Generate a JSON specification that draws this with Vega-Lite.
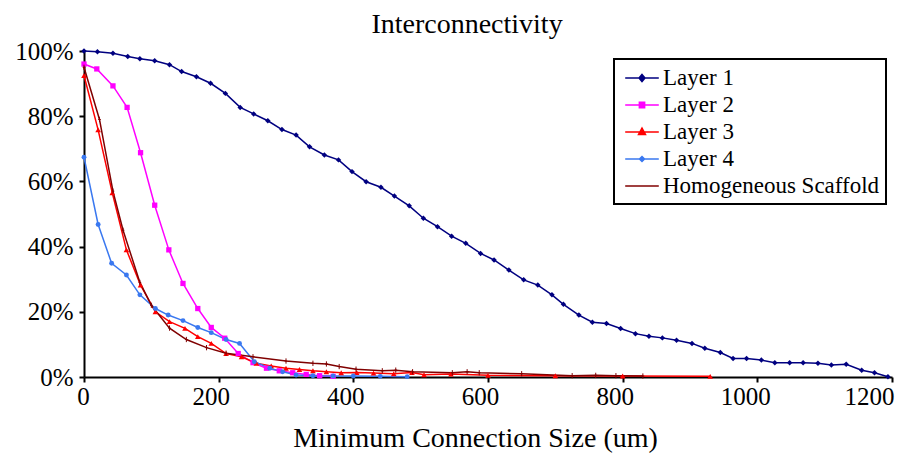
{
  "$schema": "https://vega.github.io/schema/vega-lite/v6.json",
  "width": 808,
  "height": 326,
  "autosize": {"type": "none"},
  "padding": {"left": 84, "top": 51, "right": 10, "bottom": 88},
  "background": "white",
  "title": {
    "text": "Interconnectivity",
    "font": "Times New Roman, Liberation Serif, serif",
    "fontSize": 28,
    "fontWeight": "normal",
    "color": "black",
    "anchor": "middle",
    "dx": -21,
    "offset": 0
  },
  "config": {
    "view": {"stroke": null},
    "axis": {
      "labelFont": "Times New Roman, Liberation Serif, serif",
      "labelFontSize": 25,
      "labelColor": "black",
      "titleFont": "Times New Roman, Liberation Serif, serif",
      "titleFontSize": 28,
      "titleFontWeight": "normal",
      "titleColor": "black",
      "domainColor": "black",
      "domainWidth": 2,
      "tickColor": "black",
      "tickWidth": 2,
      "tickSize": 5,
      "grid": false
    }
  },
  "data": {
    "values": [
      {"series": "Layer 1", "size": 0, "pct": 100},
      {"series": "Layer 1", "size": 20, "pct": 99.8},
      {"series": "Layer 1", "size": 43, "pct": 99.3},
      {"series": "Layer 1", "size": 65, "pct": 98.3},
      {"series": "Layer 1", "size": 83, "pct": 97.6},
      {"series": "Layer 1", "size": 105, "pct": 97.0},
      {"series": "Layer 1", "size": 127, "pct": 95.8},
      {"series": "Layer 1", "size": 145, "pct": 93.7},
      {"series": "Layer 1", "size": 167, "pct": 92.1},
      {"series": "Layer 1", "size": 188, "pct": 90.1},
      {"series": "Layer 1", "size": 210, "pct": 87.0},
      {"series": "Layer 1", "size": 232, "pct": 82.7},
      {"series": "Layer 1", "size": 252, "pct": 80.7},
      {"series": "Layer 1", "size": 273, "pct": 78.6},
      {"series": "Layer 1", "size": 294, "pct": 75.9},
      {"series": "Layer 1", "size": 315, "pct": 74.2},
      {"series": "Layer 1", "size": 335, "pct": 70.6},
      {"series": "Layer 1", "size": 357, "pct": 68.1},
      {"series": "Layer 1", "size": 378, "pct": 66.6},
      {"series": "Layer 1", "size": 398, "pct": 63.0},
      {"series": "Layer 1", "size": 419, "pct": 59.9},
      {"series": "Layer 1", "size": 441, "pct": 58.2},
      {"series": "Layer 1", "size": 461, "pct": 55.5},
      {"series": "Layer 1", "size": 483, "pct": 52.5},
      {"series": "Layer 1", "size": 504, "pct": 48.7},
      {"series": "Layer 1", "size": 525, "pct": 46.1},
      {"series": "Layer 1", "size": 546, "pct": 43.2},
      {"series": "Layer 1", "size": 567, "pct": 41.0},
      {"series": "Layer 1", "size": 589, "pct": 37.9},
      {"series": "Layer 1", "size": 609, "pct": 35.9},
      {"series": "Layer 1", "size": 631, "pct": 32.8},
      {"series": "Layer 1", "size": 653, "pct": 29.8},
      {"series": "Layer 1", "size": 674, "pct": 28.2},
      {"series": "Layer 1", "size": 695, "pct": 25.2},
      {"series": "Layer 1", "size": 712, "pct": 22.3},
      {"series": "Layer 1", "size": 735, "pct": 19.0},
      {"series": "Layer 1", "size": 755, "pct": 16.8},
      {"series": "Layer 1", "size": 776, "pct": 16.4},
      {"series": "Layer 1", "size": 797, "pct": 14.9},
      {"series": "Layer 1", "size": 819, "pct": 13.3},
      {"series": "Layer 1", "size": 839, "pct": 12.5},
      {"series": "Layer 1", "size": 859, "pct": 12.0},
      {"series": "Layer 1", "size": 880, "pct": 11.3},
      {"series": "Layer 1", "size": 903, "pct": 10.3},
      {"series": "Layer 1", "size": 922, "pct": 8.8},
      {"series": "Layer 1", "size": 945, "pct": 7.5},
      {"series": "Layer 1", "size": 964, "pct": 5.7},
      {"series": "Layer 1", "size": 984, "pct": 5.7},
      {"series": "Layer 1", "size": 1006, "pct": 5.2},
      {"series": "Layer 1", "size": 1026, "pct": 4.4},
      {"series": "Layer 1", "size": 1048, "pct": 4.4},
      {"series": "Layer 1", "size": 1068, "pct": 4.4},
      {"series": "Layer 1", "size": 1090, "pct": 4.2},
      {"series": "Layer 1", "size": 1110, "pct": 3.7},
      {"series": "Layer 1", "size": 1132, "pct": 3.9},
      {"series": "Layer 1", "size": 1155, "pct": 2.1},
      {"series": "Layer 1", "size": 1174, "pct": 1.3},
      {"series": "Layer 1", "size": 1194, "pct": 0.1},

      {"series": "Layer 2", "size": 0, "pct": 96.0},
      {"series": "Layer 2", "size": 19, "pct": 94.5},
      {"series": "Layer 2", "size": 43, "pct": 89.3},
      {"series": "Layer 2", "size": 64, "pct": 82.7},
      {"series": "Layer 2", "size": 84, "pct": 68.8},
      {"series": "Layer 2", "size": 105, "pct": 52.7},
      {"series": "Layer 2", "size": 126, "pct": 39.0},
      {"series": "Layer 2", "size": 147, "pct": 28.7},
      {"series": "Layer 2", "size": 169, "pct": 21.0},
      {"series": "Layer 2", "size": 189, "pct": 15.2},
      {"series": "Layer 2", "size": 209, "pct": 11.9},
      {"series": "Layer 2", "size": 229, "pct": 7.2},
      {"series": "Layer 2", "size": 251, "pct": 4.4},
      {"series": "Layer 2", "size": 271, "pct": 2.7},
      {"series": "Layer 2", "size": 290, "pct": 1.9},
      {"series": "Layer 2", "size": 310, "pct": 1.3},
      {"series": "Layer 2", "size": 330, "pct": 0.8},
      {"series": "Layer 2", "size": 350, "pct": 0.4},
      {"series": "Layer 2", "size": 370, "pct": 0.2},

      {"series": "Layer 3", "size": 0, "pct": 92.5},
      {"series": "Layer 3", "size": 21, "pct": 75.8},
      {"series": "Layer 3", "size": 42, "pct": 56.5},
      {"series": "Layer 3", "size": 63, "pct": 39.0},
      {"series": "Layer 3", "size": 84, "pct": 28.2},
      {"series": "Layer 3", "size": 106, "pct": 20.0},
      {"series": "Layer 3", "size": 127, "pct": 17.0},
      {"series": "Layer 3", "size": 150, "pct": 14.9},
      {"series": "Layer 3", "size": 169, "pct": 12.4},
      {"series": "Layer 3", "size": 189, "pct": 10.3},
      {"series": "Layer 3", "size": 211, "pct": 7.2},
      {"series": "Layer 3", "size": 234, "pct": 6.2},
      {"series": "Layer 3", "size": 256, "pct": 4.2},
      {"series": "Layer 3", "size": 278, "pct": 3.4},
      {"series": "Layer 3", "size": 300, "pct": 2.7},
      {"series": "Layer 3", "size": 320, "pct": 2.3},
      {"series": "Layer 3", "size": 340, "pct": 1.9},
      {"series": "Layer 3", "size": 360, "pct": 1.6},
      {"series": "Layer 3", "size": 382, "pct": 1.3},
      {"series": "Layer 3", "size": 405, "pct": 1.4},
      {"series": "Layer 3", "size": 430, "pct": 1.2},
      {"series": "Layer 3", "size": 460, "pct": 1.0},
      {"series": "Layer 3", "size": 487, "pct": 1.4},
      {"series": "Layer 3", "size": 505, "pct": 0.7},
      {"series": "Layer 3", "size": 545, "pct": 0.9},
      {"series": "Layer 3", "size": 600, "pct": 0.5},
      {"series": "Layer 3", "size": 700, "pct": 0.4},
      {"series": "Layer 3", "size": 800, "pct": 0.3},
      {"series": "Layer 3", "size": 930, "pct": 0.2},

      {"series": "Layer 4", "size": 0, "pct": 67.4},
      {"series": "Layer 4", "size": 21, "pct": 46.8},
      {"series": "Layer 4", "size": 41, "pct": 34.9},
      {"series": "Layer 4", "size": 63, "pct": 31.3},
      {"series": "Layer 4", "size": 83, "pct": 25.2},
      {"series": "Layer 4", "size": 106, "pct": 21.0},
      {"series": "Layer 4", "size": 125, "pct": 19.0},
      {"series": "Layer 4", "size": 147, "pct": 17.3},
      {"series": "Layer 4", "size": 169, "pct": 15.2},
      {"series": "Layer 4", "size": 189, "pct": 13.6},
      {"series": "Layer 4", "size": 211, "pct": 11.5},
      {"series": "Layer 4", "size": 231, "pct": 10.3},
      {"series": "Layer 4", "size": 253, "pct": 4.7},
      {"series": "Layer 4", "size": 276, "pct": 2.7},
      {"series": "Layer 4", "size": 295, "pct": 1.6},
      {"series": "Layer 4", "size": 315, "pct": 0.6},
      {"series": "Layer 4", "size": 340, "pct": 0.4},
      {"series": "Layer 4", "size": 370, "pct": 0.3},
      {"series": "Layer 4", "size": 400, "pct": 0.3},
      {"series": "Layer 4", "size": 440, "pct": 0.2},
      {"series": "Layer 4", "size": 480, "pct": 0.1},

      {"series": "Homogeneous Scaffold", "size": 0, "pct": 95.0},
      {"series": "Homogeneous Scaffold", "size": 23, "pct": 79.0},
      {"series": "Homogeneous Scaffold", "size": 43, "pct": 57.0},
      {"series": "Homogeneous Scaffold", "size": 58, "pct": 45.0},
      {"series": "Homogeneous Scaffold", "size": 83, "pct": 29.0},
      {"series": "Homogeneous Scaffold", "size": 100, "pct": 22.0},
      {"series": "Homogeneous Scaffold", "size": 127, "pct": 15.0},
      {"series": "Homogeneous Scaffold", "size": 152, "pct": 11.5},
      {"series": "Homogeneous Scaffold", "size": 182, "pct": 9.0},
      {"series": "Homogeneous Scaffold", "size": 211, "pct": 7.3},
      {"series": "Homogeneous Scaffold", "size": 251, "pct": 6.2},
      {"series": "Homogeneous Scaffold", "size": 300, "pct": 4.9},
      {"series": "Homogeneous Scaffold", "size": 340, "pct": 4.2},
      {"series": "Homogeneous Scaffold", "size": 360, "pct": 4.0},
      {"series": "Homogeneous Scaffold", "size": 379, "pct": 3.2},
      {"series": "Homogeneous Scaffold", "size": 404, "pct": 2.4},
      {"series": "Homogeneous Scaffold", "size": 443, "pct": 1.9},
      {"series": "Homogeneous Scaffold", "size": 463, "pct": 2.1},
      {"series": "Homogeneous Scaffold", "size": 488, "pct": 1.6},
      {"series": "Homogeneous Scaffold", "size": 547, "pct": 1.3},
      {"series": "Homogeneous Scaffold", "size": 569, "pct": 1.6},
      {"series": "Homogeneous Scaffold", "size": 587, "pct": 1.3},
      {"series": "Homogeneous Scaffold", "size": 650, "pct": 1.0},
      {"series": "Homogeneous Scaffold", "size": 725, "pct": 0.4},
      {"series": "Homogeneous Scaffold", "size": 760, "pct": 0.5},
      {"series": "Homogeneous Scaffold", "size": 790, "pct": 0.4},
      {"series": "Homogeneous Scaffold", "size": 830, "pct": 0.3}
    ]
  },
  "encoding": {
    "x": {
      "field": "size",
      "type": "quantitative",
      "scale": {"domain": [0, 1200], "nice": false},
      "axis": {
        "title": "Minimum Connection Size (um)",
        "values": [0, 200, 400, 600, 800, 1000, 1200],
        "format": "d",
        "labelPadding": 2,
        "titlePadding": 15,
        "titleX": 391,
        "labelFlush": false,
        "labelOffset": {
          "condition": [
            {"test": "datum.value === 1200", "value": -23},
            {"test": "datum.value === 1000", "value": -12},
            {"test": "datum.value === 0", "value": -1}
          ],
          "value": -8
        }
      }
    },
    "y": {
      "field": "pct",
      "type": "quantitative",
      "scale": {"domain": [0, 100], "nice": false},
      "axis": {
        "title": null,
        "values": [0, 20, 40, 60, 80, 100],
        "labelExpr": "datum.value + '%'",
        "labelPadding": 6,
        "labelFlush": false
      }
    },
    "color": {
      "field": "series",
      "type": "nominal",
      "scale": {
        "domain": ["Layer 1", "Layer 2", "Layer 3", "Layer 4", "Homogeneous Scaffold"],
        "range": ["#000080", "#FF00FF", "#FF0000", "#3A78F0", "#800000"]
      },
      "legend": {
        "title": null,
        "orient": "none",
        "legendX": 530,
        "legendY": 8,
        "strokeColor": "black",
        "padding": 6,
        "symbolOffset": 9,
        "symbolType": "stroke",
        "symbolSize": 576,
        "symbolStrokeWidth": 1.5,
        "labelFont": "Times New Roman, Liberation Serif, serif",
        "labelFontSize": 23,
        "labelColor": "black",
        "labelOffset": 8,
        "rowPadding": 2,
        "labelLimit": 400,
        "encode": {
          "legend": {"update": {"strokeWidth": {"value": 2}}},
          "symbols": {
            "update": {
              "shape": {"signal": "datum.value === 'Layer 1' ? 'M-1.4,0H1.4M0,-0.3L0.25,0L0,0.3L-0.25,0Z' : datum.value === 'Layer 2' ? 'M-1.4,0H1.4M-0.22,-0.22H0.22V0.22H-0.22Z' : datum.value === 'Layer 3' ? 'M-1.4,0H1.4M0,-0.33L0.29,0.2H-0.29Z' : datum.value === 'Layer 4' ? 'M-1.4,0H1.4M0,-0.21L0.21,0L0,0.21L-0.21,0Z' : 'M-1.4,0H1.4'"},
              "fill": {"scale": "color", "field": "value"},
              "fillOpacity": {"value": 1}
            }
          }
        }
      }
    }
  },
  "layer": [
    {"mark": {"type": "line", "strokeWidth": 1.5}},
    {
      "transform": [{"filter": "datum.series === 'Layer 1'"}],
      "mark": {"type": "point", "shape": "diamond", "filled": true, "opacity": 1, "size": 30}
    },
    {
      "transform": [{"filter": "datum.series === 'Layer 2'"}],
      "mark": {"type": "point", "shape": "square", "filled": true, "opacity": 1, "size": 28}
    },
    {
      "transform": [{"filter": "datum.series === 'Layer 3'"}],
      "mark": {"type": "point", "shape": "triangle-up", "filled": true, "opacity": 1, "size": 32}
    },
    {
      "transform": [{"filter": "datum.series === 'Layer 4'"}],
      "mark": {"type": "point", "shape": "circle", "filled": true, "opacity": 1, "size": 24}
    },
    {
      "transform": [{"filter": "datum.series === 'Homogeneous Scaffold'"}],
      "mark": {"type": "point", "shape": "M0,-1V1M-0.5,0H0.5", "filled": false, "opacity": 1, "size": 28, "strokeWidth": 1}
    }
  ]
}
